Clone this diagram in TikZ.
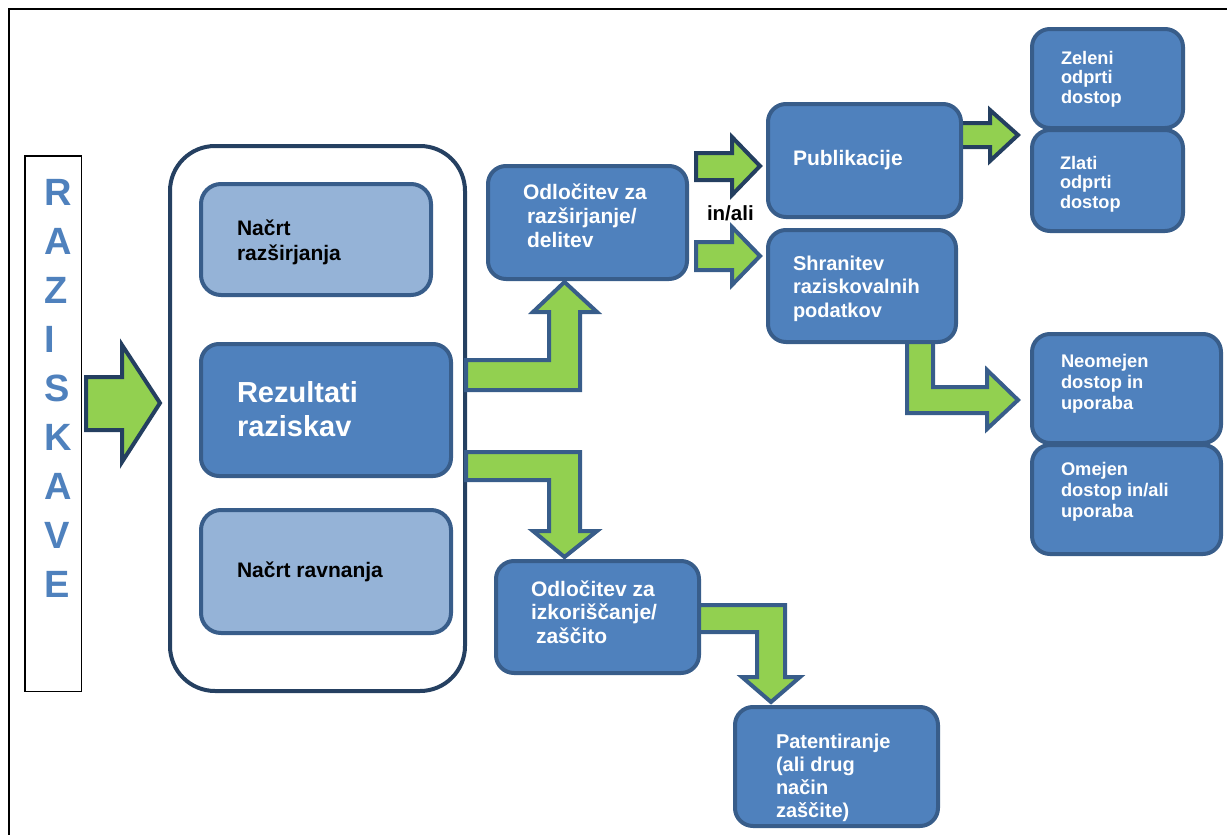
\documentclass[tikz,border=0pt]{standalone}
\usepackage{fontspec}
\setmainfont{Liberation Sans}
\definecolor{bfill}{HTML}{4F81BD}
\definecolor{bline}{HTML}{385D8A}
\definecolor{lfill}{HTML}{95B3D7}
\definecolor{cline}{HTML}{254061}
\definecolor{gfill}{HTML}{92D050}
\definecolor{adark}{HTML}{243F60}
\newcommand\mkbox[6]{\node[#1, minimum width={#5-#3-4}, minimum height={#6-#4-4}] (#2) at ({(#3+#5)/2},{(#4+#6)/2}) {};}
\newcommand\ml[1]{\begin{tabular}[t]{@{}l@{}}#1\end{tabular}}
\tikzset{
  bluebox/.style={draw=bline, fill=bfill, line width=4pt, rounded corners=18pt, inner sep=0pt, outer sep=0pt},
  lightbox/.style={bluebox, fill=lfill, rounded corners=20pt},
  contbox/.style={draw=cline, fill=white, line width=4pt, rounded corners=45pt, inner sep=0pt, outer sep=0pt},
  garrow/.style={fill=gfill, draw=bline, line width=4pt, line join=miter},
  garrowdark/.style={garrow, draw=adark},
  lbl/.style={anchor=base west, inner sep=0pt, outer sep=0pt},
  wtxt/.style={lbl, text=white},
  btxt/.style={lbl, text=black},
  fmid/.style={font=\fontsize{21}{24}\selectfont\bfseries},
  fsmall/.style={font=\fontsize{18.2}{19.5}\selectfont\bfseries},
  fside/.style={font=\fontsize{18.3}{21}\selectfont\bfseries},
  fpat/.style={font=\fontsize{20}{23}\selectfont\bfseries},
}
\begin{document}
\begin{tikzpicture}[x=1pt,y=-1pt]
\useasboundingbox (0,0) rectangle (1227,835);
\clip (0,0) rectangle (1227,835);
% outer frame
\draw[line width=2pt] (9,850) -- (9,9) -- (1240,9);
% RAZISKAVE
\node[draw=black, line width=1.5pt, fill=white, minimum width=56.5, minimum height=535.5, inner sep=0pt] (raz) at (53,423.5) {};
\node[lbl, text=bfill, font=\fontsize{38}{49.1}\selectfont\bfseries] (razt) at (44.5,205) {\ml{R\\A\\Z\\I\\S\\K\\A\\V\\E}};
% big arrow
\draw[garrowdark] (86,377) -- (122,377) -- (122,345) -- (160,403) -- (122,462) -- (122,430) -- (86,430) -- cycle;
% container
\mkbox{contbox}{cont}{168}{144}{467}{693}
\mkbox{lightbox}{plana}{199}{182}{433}{297}
\mkbox{bluebox}{rez}{199}{342}{453}{478}
\mkbox{lightbox}{planb}{199}{508}{453}{635}
\node[btxt, font=\fontsize{21}{25}\selectfont\bfseries] (planat) at (237,235) {\ml{Načrt\\razširjanja}};
\node[wtxt, font=\fontsize{29}{34}\selectfont\bfseries] (rezt) at (237,402) {\ml{Rezultati\\raziskav}};
\node[btxt, fmid] (planbt) at (237,577) {Načrt ravnanja};
% arrows hidden under boxes at their tails
\draw[garrowdark] (958,123) -- (990,123) -- (990,110) -- (1018,135) -- (990,161) -- (990,147) -- (958,147) -- cycle;
\draw[garrow] (907,338) -- (933,338) -- (933,387) -- (987,387) -- (987,370) -- (1018,400) -- (987,429) -- (987,413) -- (907,413) -- cycle;
% boxes
\mkbox{bluebox}{oda}{486}{164}{689}{281}
\mkbox{bluebox}{odb}{494}{559}{701}{675}
\mkbox{bluebox}{pub}{766}{102}{963}{219}
\mkbox{bluebox}{shr}{766}{228}{958}{344}
\mkbox{bluebox}{zel}{1030}{27}{1185}{130}
\mkbox{bluebox}{zla}{1030}{128}{1185}{233}
\mkbox{bluebox}{neo}{1030}{332}{1223}{445}
\mkbox{bluebox}{ome}{1030}{443}{1223}{556}
\mkbox{bluebox}{pat}{733}{705}{940}{828}
% texts
\node[wtxt, fmid] (odat) at (527,199) {\ml{\kern-4pt Odločitev za\\razširjanje/\\delitev}};
\node[btxt, font=\fontsize{20.5}{24}\selectfont\bfseries] (inali) at (707,220) {in/ali};
\node[wtxt, fmid] (pubt) at (793,165) {Publikacije};
\node[wtxt, font=\fontsize{20}{23.5}\selectfont\bfseries] (shrt) at (793,270) {\ml{Shranitev\\raziskovalnih\\podatkov}};
\node[wtxt, font=\fontsize{21}{23.5}\selectfont\bfseries] (odbt) at (531,596) {\ml{Odločitev za\\izkoriščanje/\\\kern5pt zaščito}};
\node[wtxt, fpat] (patt) at (776,748) {\ml{Patentiranje\\(ali drug\\način\\zaščite)}};
\node[wtxt, fsmall] (zelt) at (1061,64) {\ml{Zeleni\\odprti\\dostop}};
\node[wtxt, fsmall] (zlat) at (1060,169) {\ml{Zlati\\odprti\\dostop}};
\node[wtxt, fside] (neot) at (1061,367) {\ml{Neomejen\\dostop in\\uporaba}};
\node[wtxt, fside] (omet) at (1061,475) {\ml{Omejen\\dostop in/ali\\uporaba}};
% arrows on top
\draw[garrowdark] (696,153) -- (732,153) -- (732,137) -- (760,166) -- (732,195) -- (732,180) -- (696,180) -- cycle;
\draw[garrow] (696,242) -- (732,242) -- (732,227) -- (760,256) -- (732,285) -- (732,270) -- (696,270) -- cycle;
\draw[garrow] (466,360) -- (549,360) -- (549,312) -- (533,312) -- (564.5,282) -- (597,312) -- (580,312) -- (580,390) -- (466,390) -- cycle;
\draw[garrow] (466,452) -- (580,452) -- (580,531) -- (597,531) -- (564.5,557) -- (533,531) -- (549,531) -- (549,480) -- (466,480) -- cycle;
\draw[garrow] (699,605) -- (785,605) -- (785,677) -- (800,677) -- (771,702) -- (742,677) -- (757,677) -- (757,632) -- (699,632) -- cycle;
\end{tikzpicture}
\end{document}
